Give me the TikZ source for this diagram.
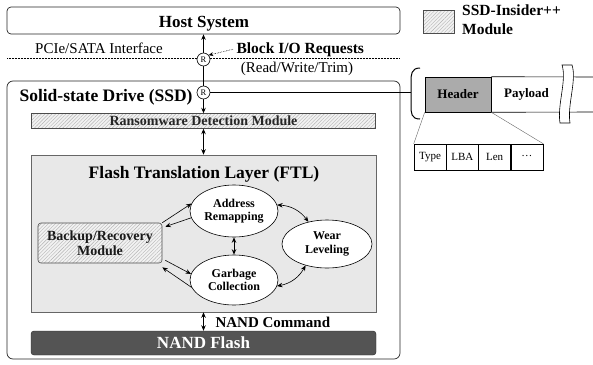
\documentclass[tikz,border=0pt]{standalone}
\usepackage{fontspec}
\setmainfont{Liberation Serif}
\usetikzlibrary{arrows.meta,patterns.meta,shapes.geometric,calc}
\newcommand{\fsz}[1]{\fontsize{#1}{#1}\selectfont}
\begin{document}
\begin{tikzpicture}[x=1pt,y=-1pt,
  >={Stealth[length=5.5pt,width=4.5pt]},
  box/.style={draw=black!85, line width=0.7pt, rounded corners=4pt, inner sep=0pt},
  hatchbox/.style={draw=black!70, line width=0.6pt, inner sep=0pt,
    preaction={fill=gray!10},
    pattern={Lines[angle=45,distance=2.5pt,line width=0.4pt]}, pattern color=gray!60},
  ell/.style={ellipse, draw, fill=white, line width=0.6pt, inner sep=0pt, align=center,
    font=\fontsize{12}{13.5}\selectfont\bfseries},
  conn/.style={<->, line width=0.8pt},
  sarr/.style={->, line width=0.6pt},
  rc/.style={circle, draw, fill=white, line width=0.6pt, inner sep=0pt, minimum size=13pt,
    font=\fsz{8.5}},
  field/.style={draw, line width=0.5pt, minimum width=32.25pt, minimum height=26pt,
    inner sep=0pt, font=\fsz{11}}]
\useasboundingbox (0,0) rectangle (593,364);

% ---- SSD outer box and host ----
\node[box, rounded corners=6pt, minimum width=393pt, minimum height=278pt] (ssd) at (203.5,220) {};
\node[anchor=base west, font=\fsz{17.5}\bfseries] (ssdlbl) at (16,101) {Solid-state Drive (SSD)};
\node[box, minimum width=393pt, minimum height=27pt] (host) at (203.5,20.5) {};
\node[anchor=base, font=\fsz{17}\bfseries] (hostlbl) at (204,27) {Host System};

% interface line
\coordinate (dl) at (7,58); \coordinate (dr) at (400,58);
\draw[densely dotted, line width=0.5pt] (dl) -- (dr);
\node[anchor=base, font=\fsz{15}] (pcie) at (99,53) {PCIe/SATA Interface};
\node[anchor=base west, font=\fsz{15.5}\bfseries] (blk) at (233,53) {Block I/O Requests};
\node[anchor=base, font=\fsz{15}] (rwt) at (297,72) {(Read/Write/Trim)};

% ---- modules ----
\node[hatchbox, minimum width=344pt, minimum height=15pt] (rdm) at (203.5,121) {};
\node[anchor=base, font=\fsz{14}\bfseries, text=black!85] (rdmlbl) at (203.5,125.5) {Ransomware Detection Module};

\node[draw=black!60, fill=black!9, line width=0.5pt, minimum width=345pt, minimum height=157pt, inner sep=0pt] (ftl) at (203.5,233.5) {};
\node[anchor=base, font=\fsz{17.5}\bfseries] (ftllbl) at (204,178) {Flash Translation Layer (FTL)};

\node[ell, minimum width=88pt, minimum height=52pt] (addr) at (234,211) {Address\\Remapping};
\node[ell, minimum width=88pt, minimum height=50pt] (gc) at (234,280) {Garbage\\Collection};
\node[ell, minimum width=90pt, minimum height=48pt] (wear) at (327,244) {Wear\\Leveling};
\node[hatchbox, rounded corners=3pt, minimum width=124pt, minimum height=40pt, align=center,
  font=\fontsize{14}{15}\selectfont\bfseries, text=black!90] (backup) at (100,243) {Backup/Recovery\\Module};

\node[draw=black!85, fill=black!67, rounded corners=3pt, minimum width=345pt, minimum height=24pt,
  inner sep=0pt, text=white, font=\fsz{17}\bfseries] (nand) at (203.5,343) {NAND Flash};
\node[anchor=base west, font=\fsz{15}\bfseries] (nandcmd) at (212,327) {NAND Command};

% ---- vertical connectors ----
\draw[conn] (host) -- (rdm);
\draw[conn] (rdm) -- (ftl);
\draw[conn] (ftl) -- (nand);
\node[rc] (r1) at (203.5,59.5) {R};
\node[rc] (r2) at (203.5,92.5) {R};
\draw[densely dotted, line width=0.6pt, -{Stealth[length=4.5pt,width=4pt]}] (blk.west) -- (r1.40);

% ---- FTL internal connectors ----
\draw[sarr] (backup.north east) -- (addr.170);
\draw[sarr] (addr.189) -- ([xshift=3pt,yshift=-4pt]backup.north east);
\draw[sarr] ([xshift=3pt,yshift=3pt]backup.south east) -- (gc.172);
\draw[sarr] (gc.190) -- ([yshift=-4pt]backup.south east);
\draw[conn] (addr) -- (gc);
\draw[conn, line width=0.6pt] (addr.8) to[bend left=25] (wear.130);
\draw[conn, line width=0.6pt] (gc.352) to[bend right=25] (wear.225);

% ---- packet ----
\coordinate (brk) at (411,92.5);
\draw[line width=0.8pt] (r2) -- (brk);
\draw[line width=1pt] (420,68) .. controls (411,68) and (411,75) .. (411,82) -- (411,105) .. controls (411,113) and (411,119) .. (420,119);
\node[draw, line width=0.6pt, fill=black!33, minimum width=66pt, minimum height=35pt, inner sep=0pt,
  font=\fsz{13}\bfseries] (hdr) at (458,94.5) {Header};
\coordinate (pt) at (593,77); \coordinate (pb) at (593,112);
\draw[line width=0.6pt] (hdr.north east) -- (pt);
\draw[line width=0.6pt] (hdr.south east) -- (pb);
\node[font=\fsz{13}\bfseries] (pay) at (526.5,94.5) {Payload};
\draw[fill=white, line width=0.6pt] (562,65) -- (572,65) .. controls (577,80) and (567,105) .. (570,123)
  -- (560,123) .. controls (557,105) and (567,80) .. (562,65) -- cycle;

\node[field] (f1) at (430.1,157) {Type};
\node[field] (f2) at (462.4,157) {LBA};
\node[field] (f3) at (494.6,157) {Len};
\node[field] (f4) at (526.9,157) {\raisebox{1.5pt}{\dots}};
\draw[black!60, line width=0.4pt] (hdr.south west) -- (f1.north west);
\draw[black!60, line width=0.4pt] (hdr.south east) -- (f4.north east);

% ---- legend ----
\node[hatchbox, minimum width=31pt, minimum height=23pt] (leg) at (438.5,21.5) {};
\node[anchor=north west, align=left, inner sep=0pt, font=\fontsize{15.5}{18.5}\selectfont\bfseries] (legtxt) at (462,5) {SSD-Insider++\\Module};
\end{tikzpicture}
\end{document}
